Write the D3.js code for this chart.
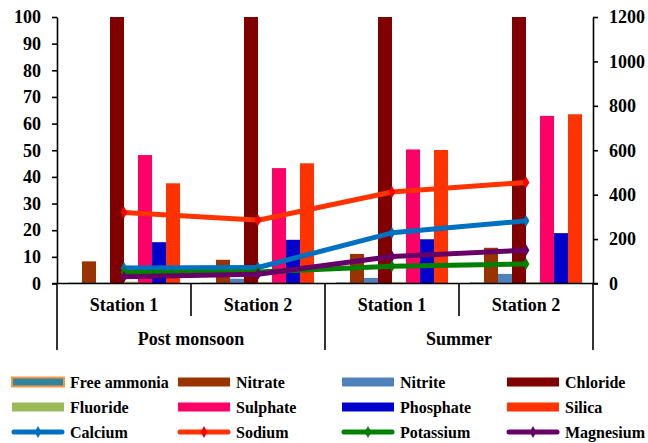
<!DOCTYPE html>
<html><head><meta charset="utf-8">
<script src="https://cdn.jsdelivr.net/npm/d3@7"></script>
<style>
html,body{margin:0;padding:0;background:#fff;}
</style></head>
<body><svg id="c" width="648" height="443"></svg>
<script>
const FONT = "'Liberation Serif', 'Times New Roman', Tinos, 'DejaVu Serif', serif";
const categories = ["PM-S1","PM-S2","SU-S1","SU-S2"];
const stationLabels = ["Station 1","Station 2","Station 1","Station 2"];
const groupLabels = ["Post monsoon","Summer"];
const leftTicks = [0,10,20,30,40,50,60,70,80,90,100];
const rightTicks = [0,200,400,600,800,1000,1200];

const barSeries = ["Free ammonia","Nitrate","Nitrite","Chloride","Fluoride","Sulphate","Phosphate","Silica"];
const freeAmmonia = [0.3,0.3,0.4,0.4];
const nitrate = [8.3,8.9,11.1,13.4];
const nitrite = [0.3,1.8,2.1,3.6];
const chloride = [250,260,320,360];
const fluoride = [0.7,0.6,0.6,0.5];
const sulphate = [48.2,43.3,50.3,62.9];
const phosphate = [15.5,16.4,16.6,18.9];
const silica = [37.6,45.1,50.1,63.5];

const lineSeries = ["Calcium","Sodium","Potassium","Magnesium"];
const calcium = [70,72,228,282];
const sodium = [320,285,412,455];
const potassium = [50,52,78,88];
const magnesium = [30,42,122,150];

const barColors = ["#31849b","#993300","#4f81bd","#800000","#9bbb59","#ff0066","#0000cc","#ff3300"];
const barStroke = ["#f79646",null,null,null,null,null,null,null];
const lineColors = ["#0070c0","#ff3300","#008000","#660066"];
const markerColors = ["#0070c0","#ff0000","#008000","#660066"];

const barData = [freeAmmonia,nitrate,nitrite,chloride,fluoride,sulphate,phosphate,silica];
const lineData = [calcium,sodium,potassium,magnesium];

const svg = d3.select("#c");
const L=57, R=593, T=17, B=283.5;

const x = d3.scaleBand().domain(categories).range([L,R]).paddingInner(0).paddingOuter(0);
const inner = 112/134;
const xs = d3.scaleBand().domain(barSeries).range([0,x.bandwidth()*inner]);
const groupOff = x.bandwidth()*(1-inner)/2;
const yL = d3.scaleLinear().domain([0,100]).range([B,T]);
const yR = d3.scaleLinear().domain([0,1200]).range([B,T]);

function txt(sel,size){ return sel.attr("font-family",FONT).attr("font-weight","bold").attr("font-size",size).attr("fill","#000"); }

svg.append("clipPath").attr("id","clip").append("rect").attr("x",L).attr("y",T).attr("width",R-L).attr("height",B-T);

// bars
const gb = svg.append("g").attr("clip-path","url(#clip)");
barSeries.forEach((s,i)=>{
  gb.selectAll(null).data(barData[i]).enter().append("rect")
    .attr("x",(d,j)=>x(categories[j])+groupOff+xs(s))
    .attr("width",xs.bandwidth())
    .attr("y",d=>yL(d))
    .attr("height",d=>B-yL(d))
    .attr("fill",barColors[i]);
});

// axes
const axL = svg.append("g").attr("transform",`translate(${L},0)`)
  .call(d3.axisLeft(yL).tickValues(leftTicks).tickSize(5).tickSizeOuter(0).tickPadding(11).tickFormat(d3.format("d")));
const axR = svg.append("g").attr("transform",`translate(${R},0)`)
  .call(d3.axisRight(yR).tickValues(rightTicks).tickSize(5).tickSizeOuter(0).tickPadding(11).tickFormat(d3.format("d")));
[axL,axR].forEach(a=>{
  a.attr("font-family",FONT);
  a.selectAll("path,line").attr("stroke","#000").attr("stroke-width",1.6);
  txt(a.selectAll("text"),18);
});

// x axis
const gx = svg.append("g");
gx.append("line").attr("x1",L-5).attr("x2",R+5).attr("y1",B).attr("y2",B).attr("stroke","#000").attr("stroke-width",1.6);
const bounds = [L, x(categories[1]), x(categories[2]), x(categories[3]), R];
bounds.forEach((bx,i)=>{
  const long = (i%2===0);
  gx.append("line").attr("x1",bx).attr("x2",bx).attr("y1",B).attr("y2",long?350:316)
    .attr("stroke","#000").attr("stroke-width",1.6);
});
txt(gx.selectAll(null).data(stationLabels).enter().append("text")
  .attr("x",(d,i)=>x(categories[i])+x.bandwidth()/2).attr("y",311)
  .attr("text-anchor","middle").text(d=>d),18);
txt(gx.selectAll(null).data(groupLabels).enter().append("text")
  .attr("x",(d,i)=>(x(categories[i*2])+x(categories[i*2+1])+x.bandwidth())/2).attr("y",345)
  .attr("text-anchor","middle").text(d=>d),18);

// lines
const diamond = d3.symbol().type(d3.symbolDiamond).size(40);
lineSeries.forEach((s,i)=>{
  const pts = lineData[i].map((v,j)=>[x(categories[j])+x.bandwidth()/2, yR(v)]);
  svg.append("path").attr("d",d3.line()(pts)).attr("fill","none")
    .attr("stroke",lineColors[i]).attr("stroke-width",5).attr("stroke-linejoin","round").attr("stroke-linecap","round");
  svg.selectAll(null).data(pts).enter().append("path")
    .attr("d",diamond).attr("transform",d=>`translate(${d[0]},${d[1]})`).attr("fill",markerColors[i]);
});

// legend
const colX = [12,178,342,507];
const rowY = [382,407,432];
const lg = svg.append("g");
barSeries.forEach((s,i)=>{
  const cx = colX[i%4], cy = rowY[Math.floor(i/4)];
  lg.append("rect").attr("x",cx).attr("y",cy-4.5).attr("width",52).attr("height",9)
    .attr("fill",barColors[i]).attr("stroke",barStroke[i]||"none").attr("stroke-width",2);
  txt(lg.append("text").attr("x",cx+58).attr("y",cy+5.5).text(s),16);
});
lineSeries.forEach((s,i)=>{
  const cx = colX[i], cy = rowY[2];
  lg.append("line").attr("x1",cx+2).attr("x2",cx+50).attr("y1",cy).attr("y2",cy)
    .attr("stroke",lineColors[i]).attr("stroke-width",5).attr("stroke-linecap","round");
  lg.append("path").attr("d",diamond).attr("transform",`translate(${cx+26},${cy})`).attr("fill",markerColors[i]);
  txt(lg.append("text").attr("x",cx+58).attr("y",cy+5.5).text(s),16);
});
</script></body></html>
